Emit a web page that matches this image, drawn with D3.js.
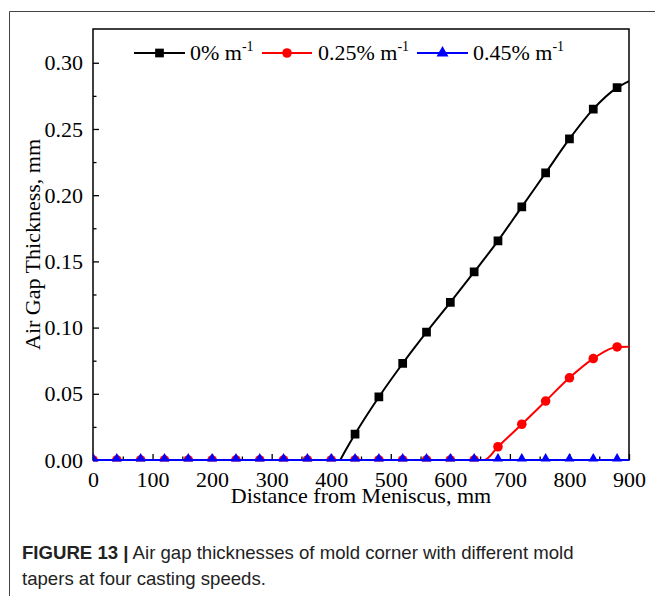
<!DOCTYPE html>
<html>
<head>
<meta charset="utf-8">
<script src="https://cdn.jsdelivr.net/npm/d3@7"></script>
<style>
  html, body { margin: 0; padding: 0; background: #fff; }
  svg { display: block; }
</style>
</head>
<body>
<script>
// ---- data ----
// 0% m^-1 (black squares)
const blackX = [415, 440, 480, 520, 560, 600, 640, 680, 720, 760, 800, 840, 880, 900];
const blackY = [0, 0.0196, 0.0476, 0.0729, 0.0965, 0.119, 0.142, 0.1655, 0.1912, 0.2168, 0.2425, 0.2650, 0.2812, 0.2862];
const blackMarked = [false, true, true, true, true, true, true, true, true, true, true, true, true, false];

// 0.25% m^-1 (red circles)
const redX = [0, 40, 80, 120, 160, 200, 240, 280, 320, 360, 400, 440, 480, 520, 560, 600, 640, 657, 680, 720, 760, 800, 840, 880, 900];
const redY = [0, 0, 0, 0, 0, 0, 0, 0, 0, 0, 0, 0, 0, 0, 0, 0, 0, 0, 0.0100, 0.0270, 0.0445, 0.0621, 0.0766, 0.0854, 0.0855];
const redMarked = [true, true, true, true, true, true, true, true, true, true, true, true, true, true, true, true, true, false, true, true, true, true, true, true, false];

// 0.45% m^-1 (blue triangles)
const blueX = [0, 40, 80, 120, 160, 200, 240, 280, 320, 360, 400, 440, 480, 520, 560, 600, 640, 680, 720, 760, 800, 840, 880, 900];
const blueY = [0, 0, 0, 0, 0, 0, 0, 0, 0, 0, 0, 0, 0, 0, 0, 0, 0, 0, 0, 0, 0, 0, 0, 0];
const blueMarked = [true, true, true, true, true, true, true, true, true, true, true, true, true, true, true, true, true, true, true, true, true, true, true, false];

const xTicks = [0, 100, 200, 300, 400, 500, 600, 700, 800, 900];
const xMinor = [50, 150, 250, 350, 450, 550, 650, 750, 850];
const yTicks = [0, 0.05, 0.10, 0.15, 0.20, 0.25, 0.30];
const yMinor = [0.025, 0.075, 0.125, 0.175, 0.225, 0.275];

const seriesNames = ["0% m", "0.25% m", "0.45% m"];
const seriesColors = ["#000000", "#ff0000", "#0000ff"];
const seriesShapes = ["square", "circle", "triangle"];

const xLabel = "Distance from Meniscus, mm";
const yLabel = "Air Gap Thickness, mm";
const captionBold = "FIGURE 13 |";
const captionLine1 = " Air gap thicknesses of mold corner with different mold";
const captionLine2 = "tapers at four casting speeds.";

// ---- layout ----
const W = 655, H = 596;
const m = { left: 93, right: 629, top: 29, bottom: 460 };
const serif = "'Liberation Serif', 'Times New Roman', Times, serif";
const sans = "'Liberation Sans', Arial, Helvetica, sans-serif";

const svg = d3.select("body").append("svg").attr("width", W).attr("height", H);

// outer figure frame
svg.append("path")
  .attr("d", `M9.5,${H} L9.5,11.5 L${W},11.5`)
  .attr("fill", "none").attr("stroke", "#444").attr("stroke-width", 1);

const x = d3.scaleLinear().domain([0, 900]).range([m.left, m.right]);
const y = d3.scaleLinear().domain([0, 0.3255]).range([m.bottom, m.top]);

// plot frame
svg.append("rect")
  .attr("x", m.left).attr("y", m.top)
  .attr("width", m.right - m.left).attr("height", m.bottom - m.top)
  .attr("fill", "none").attr("stroke", "#000").attr("stroke-width", 1.5);

// axes
const gx = svg.append("g").attr("transform", `translate(0,${m.bottom})`)
  .call(d3.axisBottom(x).tickValues(xTicks).tickFormat(d3.format("d"))
    .tickSizeInner(-6).tickSizeOuter(0).tickPadding(11));
const gxm = svg.append("g").attr("transform", `translate(0,${m.bottom})`)
  .call(d3.axisBottom(x).tickValues(xMinor).tickFormat("")
    .tickSizeInner(-3.5).tickSizeOuter(0));
const gy = svg.append("g").attr("transform", `translate(${m.left},0)`)
  .call(d3.axisLeft(y).tickValues(yTicks).tickFormat(d3.format(".2f"))
    .tickSizeInner(-6).tickSizeOuter(0).tickPadding(10));
const gym = svg.append("g").attr("transform", `translate(${m.left},0)`)
  .call(d3.axisLeft(y).tickValues(yMinor).tickFormat("")
    .tickSizeInner(-3.5).tickSizeOuter(0));

[gx, gxm, gy, gym].forEach(g => {
  g.select(".domain").remove();
  g.selectAll("line").attr("stroke", "#000").attr("stroke-width", 1.3);
  g.selectAll("text").attr("font-family", serif).attr("font-size", 22).attr("fill", "#000");
});

// axis titles
svg.append("text")
  .attr("x", (m.left + m.right) / 2).attr("y", 503)
  .attr("text-anchor", "middle")
  .attr("font-family", serif).attr("font-size", 22)
  .text(xLabel);
svg.append("text")
  .attr("transform", `translate(40,${(m.top + m.bottom) / 2}) rotate(-90)`)
  .attr("text-anchor", "middle")
  .attr("font-family", serif).attr("font-size", 22)
  .text(yLabel);

// clip
svg.append("clipPath").attr("id", "plotclip")
  .append("rect").attr("x", m.left).attr("y", m.top)
  .attr("width", m.right - m.left).attr("height", m.bottom - m.top + 1.5);

const plot = svg.append("g").attr("clip-path", "url(#plotclip)");

const symSize = { square: 76, circle: 72, triangle: 62 };
const symType = { square: d3.symbolSquare, circle: d3.symbolCircle, triangle: d3.symbolTriangle };

function drawSeries(xs, ys, marked, color, shape) {
  const pts = xs.map((xv, i) => ({ x: xv, y: ys[i], m: marked[i] }));
  plot.append("path")
    .datum(pts)
    .attr("fill", "none").attr("stroke", color).attr("stroke-width", 2)
    .attr("d", d3.line().x(d => x(d.x)).y(d => y(d.y)).curve(d3.curveMonotoneX));
  plot.append("g").selectAll("path")
    .data(pts.filter(d => d.m))
    .join("path")
    .attr("transform", d => `translate(${x(d.x)},${y(d.y)})`)
    .attr("d", d3.symbol().type(symType[shape]).size(symSize[shape]))
    .attr("fill", color);
}

drawSeries(blackX, blackY, blackMarked, seriesColors[0], seriesShapes[0]);
drawSeries(redX, redY, redMarked, seriesColors[1], seriesShapes[1]);
drawSeries(blueX, blueY, blueMarked, seriesColors[2], seriesShapes[2]);

// legend
const legendItems = [
  { x0: 134, x1: 185, tx: 190 },
  { x0: 262, x1: 312, tx: 318 },
  { x0: 417, x1: 468, tx: 473 }
];
const ly = 53;
legendItems.forEach((it, i) => {
  const g = svg.append("g");
  g.append("line").attr("x1", it.x0).attr("x2", it.x1).attr("y1", ly).attr("y2", ly)
    .attr("stroke", seriesColors[i]).attr("stroke-width", 2);
  g.append("path")
    .attr("transform", `translate(${(it.x0 + it.x1) / 2},${ly})`)
    .attr("d", d3.symbol().type(symType[seriesShapes[i]]).size(symSize[seriesShapes[i]]))
    .attr("fill", seriesColors[i]);
  const t = g.append("text").attr("x", it.tx).attr("y", ly + 7)
    .attr("font-family", serif).attr("font-size", 22).attr("fill", "#000");
  t.append("tspan").text(seriesNames[i]);
  t.append("tspan").attr("font-size", 14).attr("dy", -9).text("-1");
});

// caption
const cap = svg.append("text").attr("x", 22).attr("y", 559)
  .attr("font-family", sans).attr("font-size", 18.6).attr("fill", "#222");
cap.append("tspan").attr("font-weight", "bold").text(captionBold);
cap.append("tspan").text(captionLine1);
svg.append("text").attr("x", 22).attr("y", 585)
  .attr("font-family", sans).attr("font-size", 18.6).attr("fill", "#222")
  .text(captionLine2);
</script>
</body>
</html>
